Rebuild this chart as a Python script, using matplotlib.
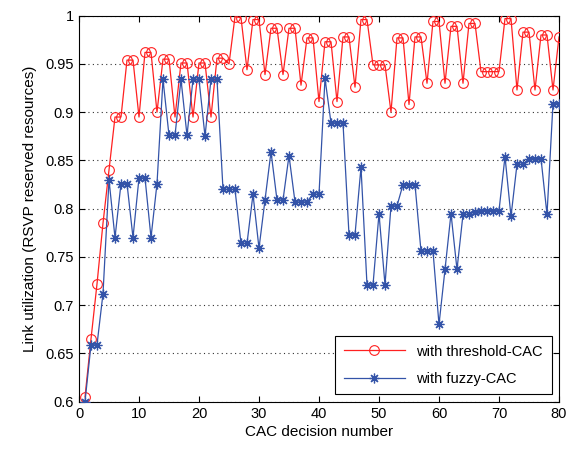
import matplotlib
matplotlib.use("Agg")
import matplotlib.pyplot as plt
import numpy as np

plt.rcParams['font.family'] = ['Liberation Sans', 'DejaVu Sans']

decisions = list(range(1, 81))

threshold_cac = [
    0.605, 0.665, 0.722, 0.785, 0.840, 0.895, 0.895, 0.954, 0.954, 0.895,
    0.962, 0.962, 0.900, 0.955, 0.955, 0.895, 0.951, 0.951, 0.895, 0.951,
    0.951, 0.895, 0.956, 0.956, 0.950, 0.999, 0.998, 0.944, 0.996, 0.996,
    0.939, 0.987, 0.987, 0.939, 0.987, 0.987, 0.928, 0.977, 0.977, 0.911,
    0.973, 0.973, 0.911, 0.978, 0.978, 0.926, 0.996, 0.996, 0.949, 0.949,
    0.949, 0.900, 0.977, 0.977, 0.908, 0.978, 0.978, 0.930, 0.994, 0.994,
    0.930, 0.989, 0.989, 0.930, 0.992, 0.992, 0.942, 0.942, 0.942, 0.942,
    0.997, 0.997, 0.923, 0.983, 0.983, 0.923, 0.980, 0.980, 0.923, 0.978,
]

fuzzy_cac = [
    0.600, 0.659, 0.659, 0.712, 0.830, 0.770, 0.826, 0.826, 0.770, 0.832,
    0.832, 0.770, 0.826, 0.934, 0.876, 0.876, 0.934, 0.876, 0.934, 0.934,
    0.875, 0.934, 0.934, 0.820, 0.820, 0.820, 0.764, 0.764, 0.815, 0.759,
    0.809, 0.859, 0.809, 0.809, 0.855, 0.807, 0.807, 0.807, 0.815, 0.815,
    0.935, 0.889, 0.889, 0.889, 0.773, 0.773, 0.843, 0.721, 0.721, 0.795,
    0.721, 0.803, 0.803, 0.825, 0.825, 0.825, 0.756, 0.756, 0.756, 0.680,
    0.737, 0.795, 0.737, 0.794, 0.794, 0.797, 0.798, 0.798, 0.798, 0.798,
    0.854, 0.792, 0.846, 0.846, 0.852, 0.852, 0.852, 0.794, 0.909, 0.909,
]

xticks = [0, 10, 20, 30, 40, 50, 60, 70, 80]
yticks = [0.6, 0.65, 0.7, 0.75, 0.8, 0.85, 0.9, 0.95, 1.0]
yticklabels = ['0.6', '0.65', '0.7', '0.75', '0.8', '0.85', '0.9', '0.95', '1']

fig = plt.figure(figsize=(5.73, 4.5), dpi=100)
ax = fig.add_axes([79/573, 1 - 401.7/450, (559-79)/573, (401.7-15.7)/450])

ax.plot(decisions, threshold_cac, color='#ff2020', lw=0.9, marker='o',
        markersize=7, markerfacecolor='none', markeredgecolor='#ff2020',
        markeredgewidth=0.8, label='with threshold-CAC', zorder=3)
ax.plot(decisions, fuzzy_cac, color='#3353a8', lw=0.9, marker=(8, 2, 0),
        markersize=7, markeredgecolor='#3353a8', markeredgewidth=0.9,
        label='with fuzzy-CAC', zorder=3)

ax.set_xlim(0, 80)
ax.set_ylim(0.6, 1.0)
ax.set_xticks(xticks)
ax.set_yticks(yticks)
ax.set_yticklabels(yticklabels)
ax.yaxis.grid(True, linestyle=(0, (1, 3)), color='#333333', lw=0.8)
ax.xaxis.grid(False)
ax.tick_params(direction='in', top=True, right=True, labelsize=10.5, length=4)
for s in ax.spines.values():
    s.set_linewidth(0.8)

ax.set_xlabel('CAC decision number', fontsize=11, labelpad=3)
ax.set_ylabel('Link utilization (RSVP reserved resources)', fontsize=11, labelpad=6)

leg = ax.legend(loc='lower right', fontsize=10.5, frameon=True, fancybox=False,
                edgecolor='black', framealpha=1, borderpad=0.6, handlelength=4.2,
                labelspacing=0.9, borderaxespad=0.5)
leg.get_frame().set_linewidth(0.8)

fig.savefig('out.png', dpi=100)
